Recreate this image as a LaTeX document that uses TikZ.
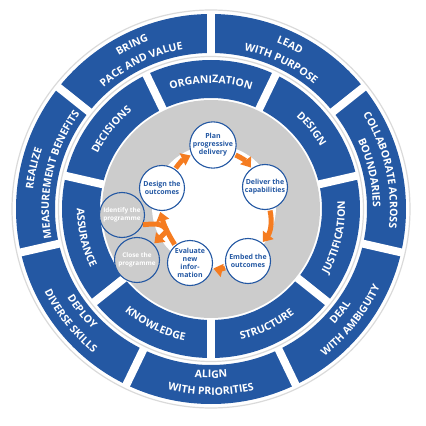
\documentclass[tikz,border=0pt]{standalone}
\usepackage{fontspec}
\setmainfont{Open Sans}
\usetikzlibrary{arrows.meta,decorations.text}
\definecolor{ringblue}{RGB}{36,88,163}
\definecolor{flowor}{RGB}{245,124,32}
\definecolor{diskgray}{RGB}{204,204,204}
\definecolor{linegray}{RGB}{218,218,218}
\newcommand\ringfont{\fontsize{10.5}{12}\selectfont\bfseries}
% text on a ring segment: centre angle, radius, text
\newcommand\ringcw[3]{\path[ringtxt={#3}] ({#1+28}:#2) arc[start angle={#1+28},end angle={#1-28},radius=#2];}
\newcommand\ringccw[3]{\path[ringtxt={#3}] ({#1-28}:#2) arc[start angle={#1-28},end angle={#1+28},radius=#2];}
\begin{document}
\begin{tikzpicture}[x=1pt,y=1pt,
    ringtxt/.style={decorate,decoration={text along path,text align=center,text color=white,text={|\ringfont|#1}}},
    gap/.style={white,line width=8pt},
    phase/.style={circle,draw=ringblue,line width=1.1pt,fill=white,minimum size=45pt,inner sep=0pt,align=center,text=ringblue,font=\fontsize{7}{8}\selectfont\bfseries},
    endphase/.style={phase,fill=diskgray,text=white,font=\fontsize{6.4}{8}\selectfont\bfseries},
    flowline/.style={flowor,line width=5pt},
    flow/.style={flowline,-{Triangle[width=13pt,length=9pt]},shorten <=1pt,shorten >=1pt}]
        \useasboundingbox (-211,-217) rectangle (215,209);
        % rings
        \fill[ringblue,even odd rule] (0,0) circle (195) (0,0) circle (156);
        \fill[ringblue,even odd rule] (0,0) circle (149) (0,0) circle (111);
        \foreach \k in {0,...,6}
            {
                \draw[gap] ({90-\k*360/7}:152) -- ({90-\k*360/7}:198);
                \draw[gap] ({90-360/14-\k*360/7}:105) -- ({90-360/14-\k*360/7}:152);
            }
        \fill[diskgray] (0,0) circle (109);
        \draw[linegray,line width=1.2pt] (0,0) circle (152.5) (0,0) circle (199);
        \fill[white] (3,2) circle (62);
        % outer ring
        \ringcw{115.71}{179}{BRING}
        \ringcw{115.71}{162}{PACE AND VALUE}
        \ringcw{64.29}{179}{LEAD}
        \ringcw{64.29}{162}{WITH PURPOSE}
        \ringcw{12.86}{179}{COLLABORATE ACROSS}
        \ringcw{12.86}{162}{BOUNDARIES}
        \ringccw{-38.57}{169}{DEAL}
        \ringccw{-38.57}{186}{WITH AMBIGUITY}
        \ringccw{-90}{169}{ALIGN}
        \ringccw{-90}{186}{WITH PRIORITIES}
        \ringccw{-141.43}{169}{DEPLOY}
        \ringccw{-141.43}{186}{DIVERSE SKILLS}
        \ringcw{167.14}{179}{REALIZE}
        \ringcw{167.14}{162}{MEASUREMENT BENEFITS}
        % inner ring
        \ringcw{90}{126}{ORGANIZATION}
        \ringcw{38.57}{126}{DESIGN}
        \ringccw{-12.86}{134}{JUSTIFICATION}
        \ringccw{-64.29}{134}{STRUCTURE}
        \ringccw{-115.71}{134}{KNOWLEDGE}
        \ringccw{-167.14}{134}{ASSURANCE}
        \ringcw{141.43}{126}{DECISIONS}
        % cycle
        \node[phase] (plan) at (2,64) {Plan\\progressive\\delivery};
        \node[phase] (deliver) at (54,22) {Deliver the\\capabilities};
        \node[phase] (embed) at (37,-52) {Embed the\\outcomes};
        \node[phase] (evaluate) at (-21,-54) {Evaluate\\new\\infor-\\mation};
        \node[phase] (design) at (-49,21) {Design the\\outcomes};
        \node[endphase] (identify) at (-89,-6) {Identify the\\programme};
        \node[endphase] (close) at (-74,-51) {Close the\\programme};
        \coordinate (hub) at (-44,-22);
        \draw[flow] (design) to[bend left=15] (plan);
        \draw[flow] (plan) to[bend left=15] (deliver);
        \draw[flow] (deliver) to[bend left=25] (embed);
        \draw[flow] (embed) to[bend left=15] (evaluate);
        \draw[flow] (evaluate.130) to[bend left=8] (design.-95);
        \draw[flowline] (identify.-25) to[out=5,in=115] (hub);
        \draw[flow] (hub) -- (close);
\end{tikzpicture}
\end{document}
